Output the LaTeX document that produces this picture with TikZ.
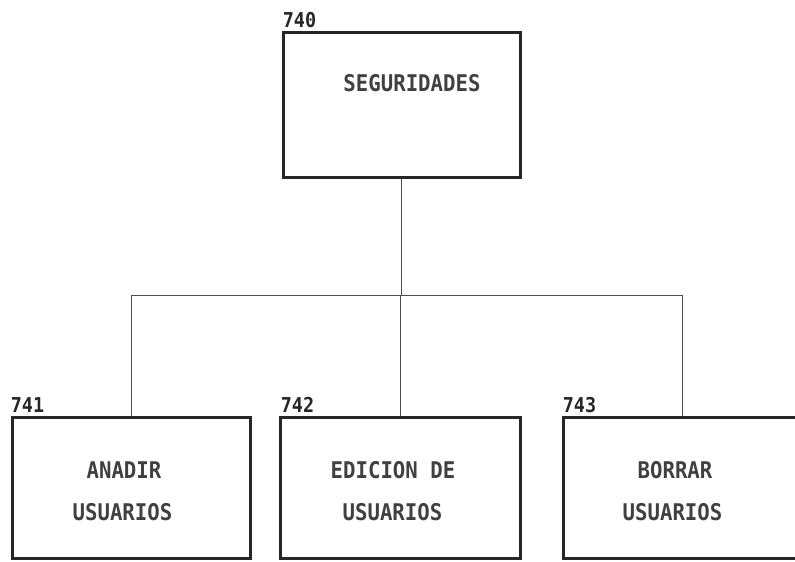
\documentclass[tikz,border=0pt]{standalone}
\usepackage{fontspec}
\newfontfamily\dosfont[FakeStretch=0.9]{DejaVu Sans Mono}
\begin{document}
\begin{tikzpicture}[x=1pt,y=1pt,
  box/.style={draw=black!85, line width=3pt, minimum width=#1, minimum height=141pt, inner sep=0pt},
  txt/.style={font=\dosfont\bfseries\fontsize{23}{27}\selectfont, text=black!75, inner sep=0pt, anchor=center},
  num/.style={font=\dosfont\bfseries\fontsize{20.5}{24}\selectfont, text=black!85, inner sep=0pt, anchor=center},
  conn/.style={draw=black!70, line width=1pt}]
\useasboundingbox (0,0) rectangle (795,562);
% boxes
\node[box=237pt, minimum height=145pt] (top) at (401.5,456.5) {};
\node[box=238pt] (b1) at (131,73.5) {};
\node[box=240pt] (b2) at (400,74) {};
\node[box=238pt] (b3) at (682,73.5) {};
% numbers
\node[num] (n0) at (299.5,542) {740};
\node[num] (n1) at (27.5,157) {741};
\node[num] (n2) at (297.5,157) {742};
\node[num] (n3) at (579.5,157) {743};
% texts
\node[txt] (t0) at (412,479) {SEGURIDADES};
\node[txt] (t1a) at (124,92) {ANADIR};
\node[txt] (t1b) at (122.5,50) {USUARIOS};
\node[txt] (t2a) at (393,92) {EDICION DE};
\node[txt] (t2b) at (392.5,50) {USUARIOS};
\node[txt] (t3a) at (675,92) {BORRAR};
\node[txt] (t3b) at (672.5,50) {USUARIOS};
% connectors
\coordinate (bus) at (0,266);
\draw[conn] (top.south) -- (top.south |- bus);
\draw[conn] (b1.north) |- (bus -| b3.north) -- (b3.north);
\draw[conn] (b2.north) -- (b2.north |- bus);
\end{tikzpicture}
\end{document}
